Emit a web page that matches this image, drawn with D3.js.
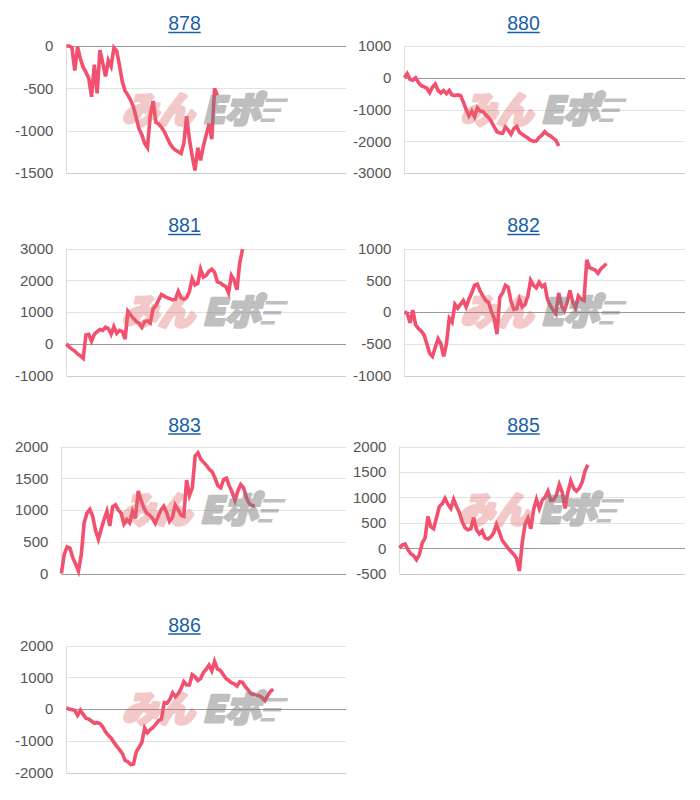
<!DOCTYPE html>
<html><head><meta charset="utf-8">
<script src="https://cdn.jsdelivr.net/npm/d3@7"></script>
<style>body{margin:0;background:#fff;} svg{display:block;}</style>
</head><body>
<script>
// ---- data ----
const titles = ["878", "880", "881", "882", "883", "885", "886"];

const s878 = [0,0,-20,-290,-10,-150,-250,-310,-380,-600,-220,-560,-50,-200,-360,-170,-240,-20,-60,-230,-420,-530,-580,-640,-720,-850,-980,-1050,-1150,-1200,-820,-650,-900,-920,-960,-1010,-1080,-1150,-1200,-1230,-1250,-1270,-1150,-830,-1100,-1300,-1470,-1200,-1350,-1180,-1050,-920,-1100,-500,-580];
const s880 = [0,130,-50,-80,0,-150,-250,-290,-330,-470,-300,-200,-400,-480,-400,-500,-400,-540,-560,-540,-560,-760,-1000,-1200,-1050,-1230,-950,-1050,-1060,-1170,-1250,-1380,-1550,-1700,-1740,-1750,-1550,-1650,-1780,-1600,-1530,-1720,-1780,-1840,-1900,-1970,-2000,-1990,-1880,-1810,-1700,-1780,-1830,-1900,-1970,-2150];
const s881 = [0,-100,-170,-230,-320,-380,-460,280,300,80,300,380,450,420,520,480,300,540,330,420,380,150,1020,900,800,700,650,520,700,720,650,1100,1200,1380,1550,1500,1450,1420,1380,1400,1650,1450,1400,1450,1650,2050,1850,1900,2350,2100,2150,2280,2350,2250,1950,1920,1850,1800,1600,2150,2000,1700,2550,2980];
const s882 = [0,-20,-170,30,-200,-260,-300,-360,-500,-650,-700,-560,-420,-500,-700,-500,-100,-160,120,60,120,180,80,200,300,420,440,330,250,180,150,10,-100,-350,230,300,420,390,170,40,50,200,80,120,250,500,420,380,470,400,430,200,100,30,-30,300,100,20,150,340,150,60,250,200,180,820,700,680,660,610,680,720,760];
const s883 = [0,300,420,400,250,150,40,300,800,950,1010,900,680,540,700,850,980,750,1050,1080,1000,950,780,850,800,980,870,1300,1150,1030,950,920,870,790,900,1000,1060,960,820,880,1080,1010,920,900,1470,1230,1350,1850,1900,1800,1750,1700,1640,1600,1500,1380,1350,1480,1500,1380,1280,1150,1300,1400,1350,1200,1100,1070,1060];
const s885 = [0,60,80,-30,-110,-150,-230,-130,100,200,620,420,380,600,820,870,980,860,780,960,820,700,520,400,360,380,600,360,280,340,200,180,220,300,460,320,150,80,0,-60,-120,-200,-450,100,470,590,380,760,960,780,940,1000,1120,940,950,1050,1250,1100,780,1100,1320,1180,1120,1180,1300,1520,1640];
const s886 = [30,0,-20,-40,-200,-40,-170,-290,-320,-380,-450,-430,-460,-560,-720,-830,-920,-1050,-1170,-1280,-1400,-1620,-1660,-1750,-1730,-1350,-1200,-1050,-600,-750,-650,-580,-480,-360,-320,200,180,300,510,390,480,640,860,760,760,1080,1020,900,960,1150,1250,1380,1200,1500,1260,1220,1100,970,900,830,790,720,860,840,700,600,480,460,430,420,360,260,420,560,620];

const ticks878 = [0, -500, -1000, -1500];
const ticks880 = [1000, 0, -1000, -2000, -3000];
const ticks881 = [3000, 2000, 1000, 0, -1000];
const ticks882 = [1000, 500, 0, -500, -1000];
const ticks883 = [2000, 1500, 1000, 500, 0];
const ticks885 = [2000, 1500, 1000, 500, 0, -500];
const ticks886 = [2000, 1000, 0, -1000, -2000];

const xSpan = [0, 100];
const watermarkA = "みん";
const watermarkB = "Eポ";

// ---- layout ----
const seriesList = [s878, s880, s881, s882, s883, s885, s886];
const tickList = [ticks878, ticks880, ticks881, ticks882, ticks883, ticks885, ticks886];
const colLabelLeft = [15, 353];
const colRight = [346, 685];
const colTitleX = [184.5, 523.5];
const rowTop = [46, 248.5, 446.5, 645.5];
const rowTitleBase = [30, 232, 431.5, 631.5];
const plotH = 127;
const labelFont = "'Liberation Sans', Arial, sans-serif";

const svg = d3.select("body").append("svg").attr("width", 700).attr("height", 800);

const meas = svg.append("text").attr("font-family", labelFont).attr("font-size", 15);
function tw(s) { meas.text(s); return meas.node().getComputedTextLength(); }

titles.forEach((title, k) => {
  const col = k % 2, row = Math.floor(k / 2);
  const vals = seriesList[k], ticks = tickList[k];
  const maxW = d3.max(ticks, t => tw(String(t)));
  const left = colLabelLeft[col] + maxW + 13;
  const right = colRight[col];
  const top = rowTop[row], bottom = top + plotH;

  const x = d3.scaleLinear().domain(xSpan).range([left, right]);
  const y = d3.scaleLinear().domain(d3.extent(ticks)).range([bottom, top]);

  const g = svg.append("g");

  const tt = g.append("text").attr("x", colTitleX[col]).attr("y", rowTitleBase[row])
    .attr("text-anchor", "middle").attr("font-family", labelFont).attr("font-size", 19.5)
    .attr("fill", "#1a5fa6").text(title);
  const tl = tt.node().getComputedTextLength();
  g.append("line").attr("x1", colTitleX[col] - tl / 2).attr("x2", colTitleX[col] + tl / 2)
    .attr("y1", rowTitleBase[row] + 2.5).attr("y2", rowTitleBase[row] + 2.5)
    .attr("stroke", "#1a5fa6").attr("stroke-width", 1.4);

  const yMin = d3.min(ticks);
  g.selectAll("line.grid").data(ticks).enter().append("line")
    .attr("x1", left).attr("x2", right)
    .attr("y1", d => Math.round(y(d)) + 0.5).attr("y2", d => Math.round(y(d)) + 0.5)
    .attr("stroke", d => d === 0 ? "#9a9a9a" : (d === yMin ? "#cccccc" : "#e2e2e2"))
    .attr("stroke-width", 1);
  g.append("line").attr("x1", Math.round(left) + 0.5).attr("x2", Math.round(left) + 0.5)
    .attr("y1", top).attr("y2", bottom).attr("stroke", "#dddddd");

  g.selectAll("text.tick").data(ticks).enter().append("text")
    .attr("x", left - 13).attr("y", d => y(d)).attr("dy", "0.36em")
    .attr("text-anchor", "end").attr("font-family", labelFont).attr("font-size", 15)
    .attr("fill", "#555555").text(d => d);

  const line = d3.line().x((d, i) => x(i)).y(d => y(d));
  g.append("path").datum(vals).attr("d", line)
    .attr("fill", "none").attr("stroke", "#f2506e").attr("stroke-width", 3.6);

  // watermark overlay
  const cx = (left + right) / 2, cy = (top + bottom) / 2;
  const wm = g.append("g").attr("transform", `translate(${cx - 4},${cy + 13}) skewX(-14)`)
    .style("pointer-events", "none");
  wm.append("text").attr("x", -8).attr("y", 0).attr("text-anchor", "end")
    .attr("font-family", "'Noto Sans CJK JP', sans-serif").attr("font-weight", 900)
    .attr("font-size", 36).attr("fill", "#e06868").attr("stroke", "#e06868")
    .attr("stroke-width", 3.5).attr("stroke-linejoin", "round")
    .attr("opacity", 0.36).text(watermarkA);
  const wg = wm.append("g").attr("opacity", 0.48);
  wg.append("text").attr("x", 0).attr("y", 0).attr("text-anchor", "start")
    .attr("font-family", "'Noto Sans CJK JP', sans-serif").attr("font-weight", 900)
    .attr("font-size", 36).attr("fill", "#7a7a7a").attr("stroke", "#7a7a7a")
    .attr("stroke-width", 3).attr("stroke-linejoin", "round").text(watermarkB);
  [[-24, 22], [-14, 18], [-4, 14]].forEach(([yy, w]) => {
    wg.append("rect").attr("x", 58).attr("y", yy).attr("width", w).attr("height", 3.5)
      .attr("fill", "#7a7a7a");
  });
});
meas.remove();
</script>
</body></html>
